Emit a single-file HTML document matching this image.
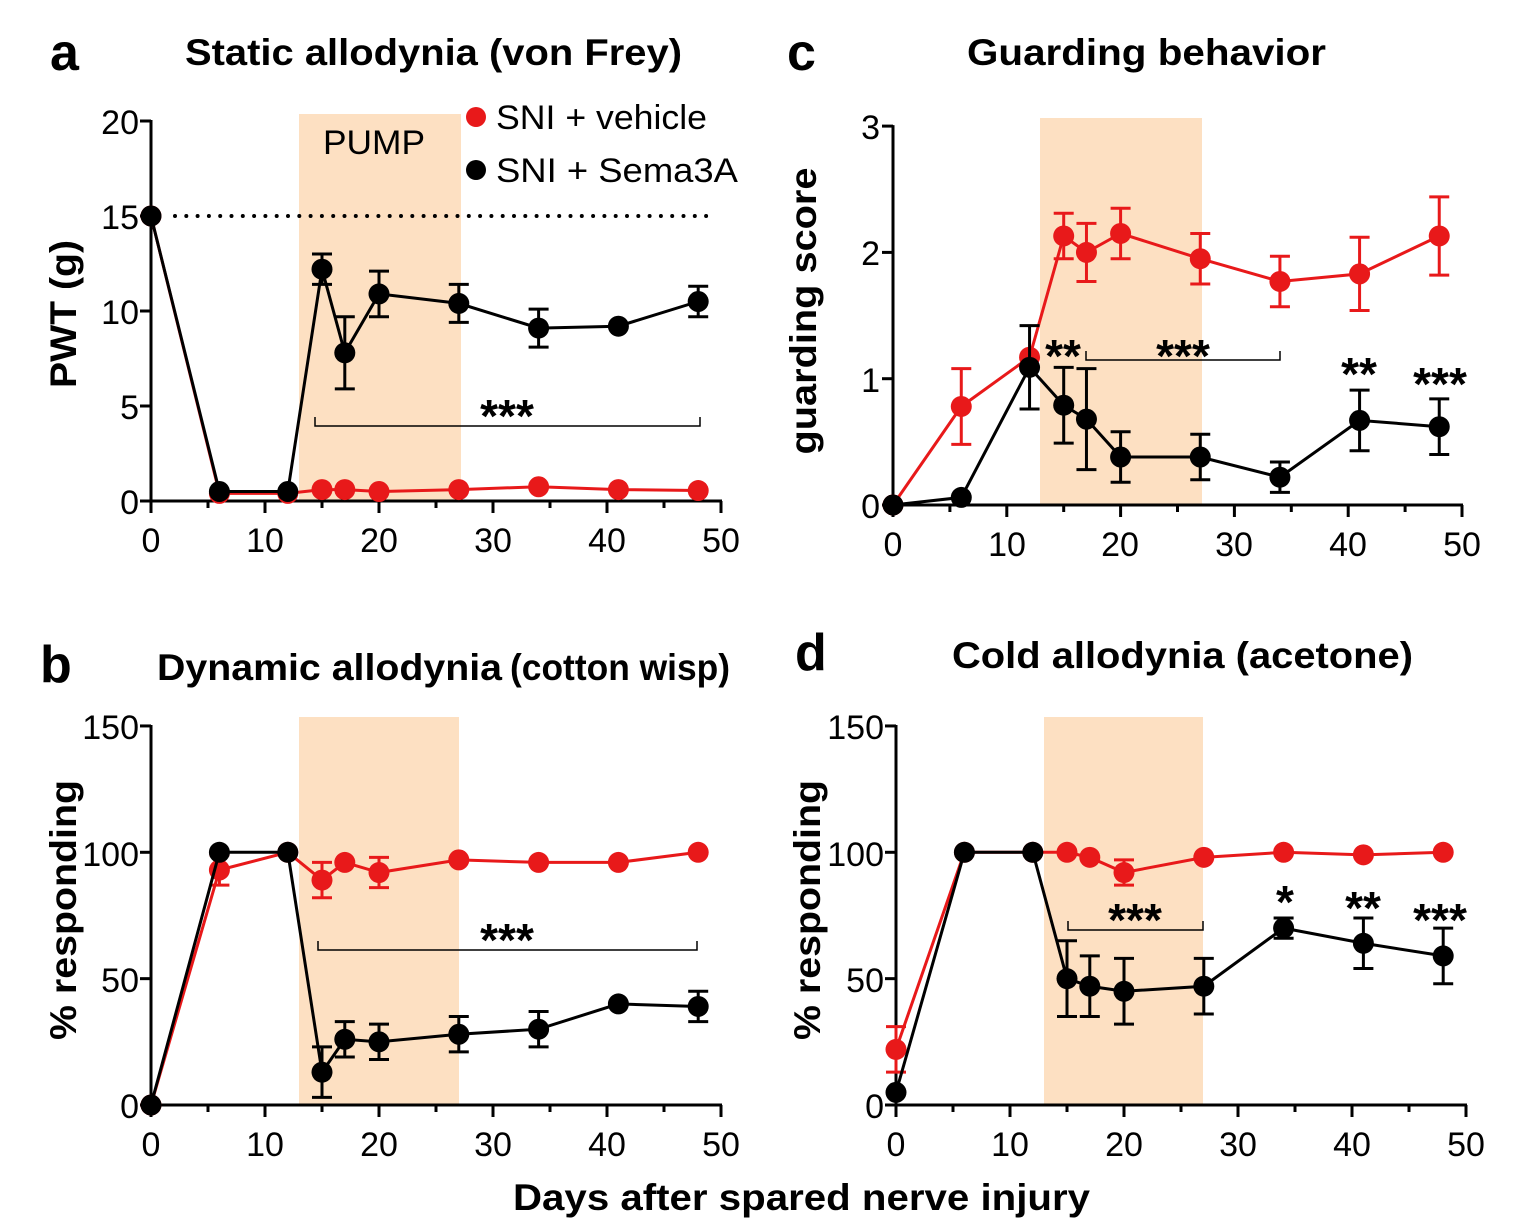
<!DOCTYPE html>
<html><head><meta charset="utf-8"><style>
html,body{margin:0;padding:0;background:#fff;width:1538px;height:1230px;overflow:hidden}
svg text{font-family:"Liberation Sans",Arial,sans-serif}
.t{font-size:34px;fill:#000}
.ti{font-size:37px;font-weight:bold}
.L{font-size:52px;font-weight:bold}
.ax{stroke:#000;stroke-width:3;fill:none}
</style></head><body>
<svg id="s" width="1538" height="1230" viewBox="0 0 1538 1230" xmlns="http://www.w3.org/2000/svg">
<g id="bg"></g>
<text class="L" x="50" y="70">a</text>
<text class="ti" x="185" y="65" textLength="497" lengthAdjust="spacingAndGlyphs">Static allodynia (von Frey)</text>
<text class="L" x="40" y="682">b</text>
<text class="ti" x="157" y="680" textLength="345" lengthAdjust="spacingAndGlyphs">Dynamic allodynia</text>
<text class="ti" x="510" y="680" font-size="33" textLength="220" lengthAdjust="spacingAndGlyphs">(cotton wisp)</text>
<text class="L" x="787" y="70">c</text>
<text class="ti" x="967" y="65" textLength="359" lengthAdjust="spacingAndGlyphs">Guarding behavior</text>
<text class="L" x="795" y="670">d</text>
<text class="ti" x="952" y="668" textLength="461" lengthAdjust="spacingAndGlyphs">Cold allodynia (acetone)</text>
<text class="ti" x="513" y="1210" textLength="577" lengthAdjust="spacingAndGlyphs">Days after spared nerve injury</text>
<text class="ti" transform="translate(76,314) rotate(-90)" text-anchor="middle" textLength="148" lengthAdjust="spacingAndGlyphs">PWT (g)</text>
<text class="ti" transform="translate(76,910) rotate(-90)" text-anchor="middle" textLength="260" lengthAdjust="spacingAndGlyphs">% responding</text>
<text class="ti" transform="translate(816,311) rotate(-90)" text-anchor="middle" textLength="287" lengthAdjust="spacingAndGlyphs">guarding score</text>
<text class="ti" transform="translate(820,910) rotate(-90)" text-anchor="middle" textLength="260" lengthAdjust="spacingAndGlyphs">% responding</text>
<text class="t" x="323" y="154" textLength="102" lengthAdjust="spacingAndGlyphs">PUMP</text>
<circle cx="476" cy="117" r="10" fill="#e8191a"/><text class="t" x="496" y="129" textLength="211" lengthAdjust="spacingAndGlyphs">SNI + vehicle</text>
<circle cx="476" cy="170" r="10" fill="#000"/><text class="t" x="496" y="182" textLength="242" lengthAdjust="spacingAndGlyphs">SNI + Sema3A</text>
<g class="t" text-anchor="end">
<text x="139" y="134">20</text><text x="139" y="229">15</text><text x="139" y="324">10</text><text x="139" y="419">5</text><text x="139" y="514">0</text>
<text x="139" y="739">150</text><text x="139" y="866">100</text><text x="139" y="992">50</text><text x="139" y="1118">0</text>
<text x="880" y="139">3</text><text x="880" y="265">2</text><text x="880" y="392">1</text><text x="880" y="518">0</text>
<text x="884" y="739">150</text><text x="884" y="866">100</text><text x="884" y="992">50</text><text x="884" y="1118">0</text>
</g>
<g class="t" text-anchor="middle">
<text x="151" y="552">0</text><text x="265" y="552">10</text><text x="379" y="552">20</text><text x="493" y="552">30</text><text x="607" y="552">40</text><text x="721" y="552">50</text>
<text x="151" y="1156">0</text><text x="265" y="1156">10</text><text x="379" y="1156">20</text><text x="493" y="1156">30</text><text x="607" y="1156">40</text><text x="721" y="1156">50</text>
<text x="893" y="556">0</text><text x="1007" y="556">10</text><text x="1120" y="556">20</text><text x="1234" y="556">30</text><text x="1348" y="556">40</text><text x="1462" y="556">50</text>
<text x="896" y="1156">0</text><text x="1010" y="1156">10</text><text x="1124" y="1156">20</text><text x="1238" y="1156">30</text><text x="1352" y="1156">40</text><text x="1466" y="1156">50</text>
</g>
<g style="font-size:46px;font-weight:bold" text-anchor="middle">
<text x="507" y="432">***</text>
<text x="507" y="956">***</text>
<text x="1063" y="372">**</text><text x="1183" y="372">***</text><text x="1359" y="390">**</text><text x="1440" y="400">***</text>
<text x="1135" y="936">***</text><text x="1285" y="918">*</text><text x="1363" y="924">**</text><text x="1440" y="936">***</text>
</g>
<g id="fg"></g>
</svg>
<script>
const NS="http://www.w3.org/2000/svg";
const bg=document.getElementById('bg'),fg=document.getElementById('fg');
function el(p,t,a){const e=document.createElementNS(NS,t);for(const k in a)e.setAttribute(k,a[k]);p.appendChild(e);return e;}
const P={
 a:{x0:151,xs:11.4,y0:501,ys:19,ymax:20,yt:5,sh:[299,461,114]},
 b:{x0:151,xs:11.4,y0:1105,ys:2.527,ymax:150,yt:50,sh:[299,459,717]},
 c:{x0:893,xs:11.38,y0:505,ys:126.3,ymax:3,yt:1,sh:[1040,1202,118]},
 d:{x0:896,xs:11.4,y0:1105,ys:2.527,ymax:150,yt:50,sh:[1044,1203,717]}
};
const D={
 a:{r:[[0,15],[6,0.4],[12,0.4],[15,0.6],[17,0.6],[20,0.5],[27,0.6],[34,0.75],[41,0.6],[48,0.55]],
    k:[[0,15],[6,0.5],[12,0.5],[15,12.2,0.8],[17,7.8,1.9],[20,10.9,1.2],[27,10.4,1],[34,9.1,1],[41,9.2],[48,10.5,0.8]]},
 b:{r:[[0,0],[6,93,6],[12,100],[15,89,7],[17,96],[20,92,6],[27,97],[34,96],[41,96],[48,100]],
    k:[[0,0],[6,100],[12,100],[15,13,10],[17,26,7],[20,25,7],[27,28,7],[34,30,7],[41,40],[48,39,6]]},
 c:{r:[[0,0],[6,0.78,0.3],[12,1.17],[15,2.13,0.18],[17,2.0,0.23],[20,2.15,0.2],[27,1.95,0.2],[34,1.77,0.2],[41,1.83,0.29],[48,2.13,0.31]],
    k:[[0,0],[6,0.06],[12,1.09,0.33],[15,0.79,0.3],[17,0.68,0.4],[20,0.38,0.2],[27,0.38,0.18],[34,0.22,0.12],[41,0.67,0.24],[48,0.62,0.22]]},
 d:{r:[[0,22,9],[6,100],[12,100],[15,100],[17,98],[20,92,5],[27,98],[34,100],[41,99],[48,100]],
    k:[[0,5],[6,100],[12,100],[15,50,15],[17,47,12],[20,45,13],[27,47,11],[34,70,4],[41,64,10],[48,59,11]]}
};
for(const n in P){const p=P[n];
 el(bg,'rect',{x:p.sh[0],y:p.sh[2],width:p.sh[1]-p.sh[0],height:p.y0-p.sh[2],fill:'#fde0c2'});
 const X=v=>p.x0+v*p.xs,Y=v=>p.y0-v*p.ys;
 const ax=el(fg,'g',{class:'ax'});
 el(ax,'line',{x1:p.x0,y1:Y(p.ymax)-1,x2:p.x0,y2:p.y0+12});
 el(ax,'line',{x1:p.x0,y1:p.y0,x2:X(50)+1,y2:p.y0});
 for(let v=0;v<=p.ymax+1e-9;v+=p.yt)el(ax,'line',{x1:p.x0-11,y1:Y(v),x2:p.x0,y2:Y(v)});
 for(let d=5;d<=50;d+=5)el(ax,'line',{x1:X(d),y1:p.y0,x2:X(d),y2:p.y0+(d%10?7:12)});
 for(const [ser,col] of [['r','#e8191a'],['k','#000']]){
  const pts=D[n][ser];
  el(fg,'polyline',{points:pts.map(q=>X(q[0])+','+Y(q[1])).join(' '),fill:'none',stroke:col,'stroke-width':3});
  for(const q of pts){ if(q[2]){const x=X(q[0]);const g=el(fg,'g',{stroke:col,'stroke-width':3});
    el(g,'line',{x1:x,y1:Y(q[1]+q[2]),x2:x,y2:Y(q[1]-q[2])});
    el(g,'line',{x1:x-10,y1:Y(q[1]+q[2]),x2:x+10,y2:Y(q[1]+q[2])});
    el(g,'line',{x1:x-10,y1:Y(q[1]-q[2]),x2:x+10,y2:Y(q[1]-q[2])});}
   el(fg,'circle',{cx:X(q[0]),cy:Y(q[1]),r:10.5,fill:col});}
 }
}
el(fg,'line',{x1:175,y1:216,x2:712,y2:216,stroke:'#000','stroke-width':4,'stroke-dasharray':'0 11.3','stroke-linecap':'round'});
function br(x1,x2,y){el(fg,'path',{d:`M${x1},${y-9}V${y}H${x2}V${y-9}`,fill:'none',stroke:'#000','stroke-width':1.5});}
br(315,700,426);br(318,697,950);br(1086,1280,360);br(1068,1203,930);
</script>
</body></html>
